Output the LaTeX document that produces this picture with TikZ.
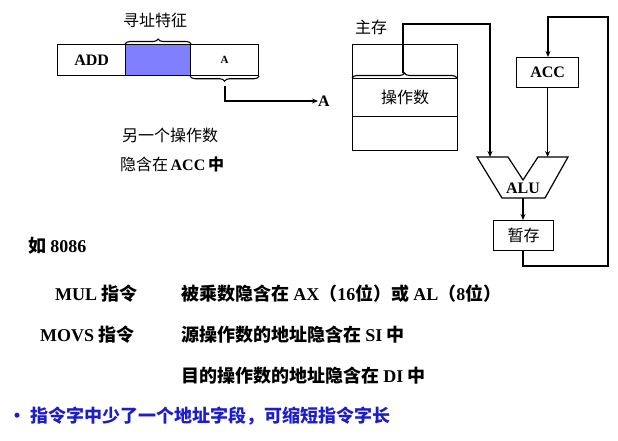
\documentclass[tikz,border=0pt]{standalone}
\usepackage{fontspec}
\setmainfont{Liberation Serif}
\newfontfamily\cjk{Noto Sans CJK SC}
\usetikzlibrary{decorations.pathreplacing,arrows.meta}
\begin{document}
\begin{tikzpicture}[x=1pt,y=-1pt,
  box/.style={draw,line width=1.2pt},
  ln/.style={line width=1.2pt},
  arr/.style={line width=1.2pt,-{Stealth[length=6pt,width=5pt]}},
  brc/.style={decorate,decoration={brace,amplitude=5pt},line width=1.1pt},
  t/.style={font=\fontsize{16}{18}\selectfont\bfseries},
  big/.style={font=\fontsize{18}{20}\selectfont\bfseries,anchor=west,inner sep=0}]
\useasboundingbox (0,0) rectangle (618,440);
% instruction
\node[box,minimum width=68,minimum height=31,inner sep=0,anchor=north west,t] (add) at (57,44) {ADD};
\node[box,fill={rgb,255:red,128;green,128;blue,255},minimum width=65,minimum height=31,anchor=north west] (mode) at (125,44) {};
\node[box,minimum width=68,minimum height=31,inner sep=0,anchor=north west,font=\fontsize{11}{12}\selectfont\bfseries] (acell) at (190,44) {A};
\draw[brc] (mode.north west) -- (mode.north east) coordinate[midway] (bm);
\node[font=\cjk\fontsize{16}{18}\selectfont] (lab) at (155,20) {寻址特征};
\draw[brc] (acell.south east) -- (acell.south west);
\coordinate (bt) at (225,86);
\node[t,inner sep=0] (Aout) at (324,101) {A};
\draw[arr] (bt) |- (Aout.west);
\node[font=\cjk\fontsize{16}{18}\selectfont] (t1) at (170,135) {另一个操作数};
\node[font=\cjk\fontsize{16}{18}\selectfont] (t2) at (172,164) {隐含在\,\bfseries\rmfamily ACC\,\cjk 中};
% memory
\node[font=\cjk\fontsize{16}{18}\selectfont] (zc) at (371,27) {主存};
\node[box,minimum width=105,minimum height=106,anchor=north west] (mem) at (352,44) {};
\node[box,minimum width=105,minimum height=38,anchor=north west,font=\cjk\fontsize{16}{18}\selectfont] (op) at (352,78) {操作数};
\draw[decorate,decoration={brace,amplitude=5pt},line width=1.1pt] (352,78) -- (457,78);
\node[box,minimum width=62,minimum height=30,anchor=north west,t] (acc) at (516,57) {ACC};
% ALU
\draw[ln] (477,157) -- (508,157) -- (523,180) -- (538,157) -- (568,157) -- (545,198) -- (502,198) -- cycle;
\node[t,inner sep=0] (alu) at (523,188) {ALU};
\coordinate (aluL) at (490,157);
\coordinate (aluR) at (acc.south |- 0,157);
\coordinate (aluB) at (523,198);
\node[box,minimum width=60,minimum height=30,anchor=north west,font=\cjk\fontsize{16}{18}\selectfont,inner sep=0] (tmp) at (493,220) {暂存};
\draw[arr] (403,73) -- (403,24) -- (490,24) -- (aluL);
\draw[arr] (acc.south) -- (aluR);
\draw[arr] (aluB) -- (aluB |- tmp.north);
\draw[arr] (aluB |- tmp.south) -- (523,266) -- (608,266) -- (608,17) -- (548,17) -- (548,57);
% text
\node[big] (r0) at (28,246) {\cjk 如\ \rmfamily\bfseries 8086};
\node[big] (r1) at (55,294) {MUL\ \cjk 指令};
\node[big] (r1b) at (181,294) {\cjk 被乘数隐含在\ \rmfamily\bfseries AX\cjk （\rmfamily\bfseries 16\cjk 位）或\ \rmfamily\bfseries AL\cjk （\rmfamily\bfseries 8\cjk 位）};
\node[big] (r2) at (40,335) {MOVS\ \cjk 指令};
\node[big] (r2b) at (181,335) {\cjk 源操作数的地址隐含在\ \rmfamily\bfseries SI\ \cjk 中};
\node[big] (r3) at (181,376) {\cjk 目的操作数的地址隐含在\ \rmfamily\bfseries DI\ \cjk 中};
\node[big,text={rgb,255:red,30;green,30;blue,200}] (r4) at (8,416) {\cjk •\ 指令字中少了一个地址字段，可缩短指令字长};
\end{tikzpicture}
\end{document}
